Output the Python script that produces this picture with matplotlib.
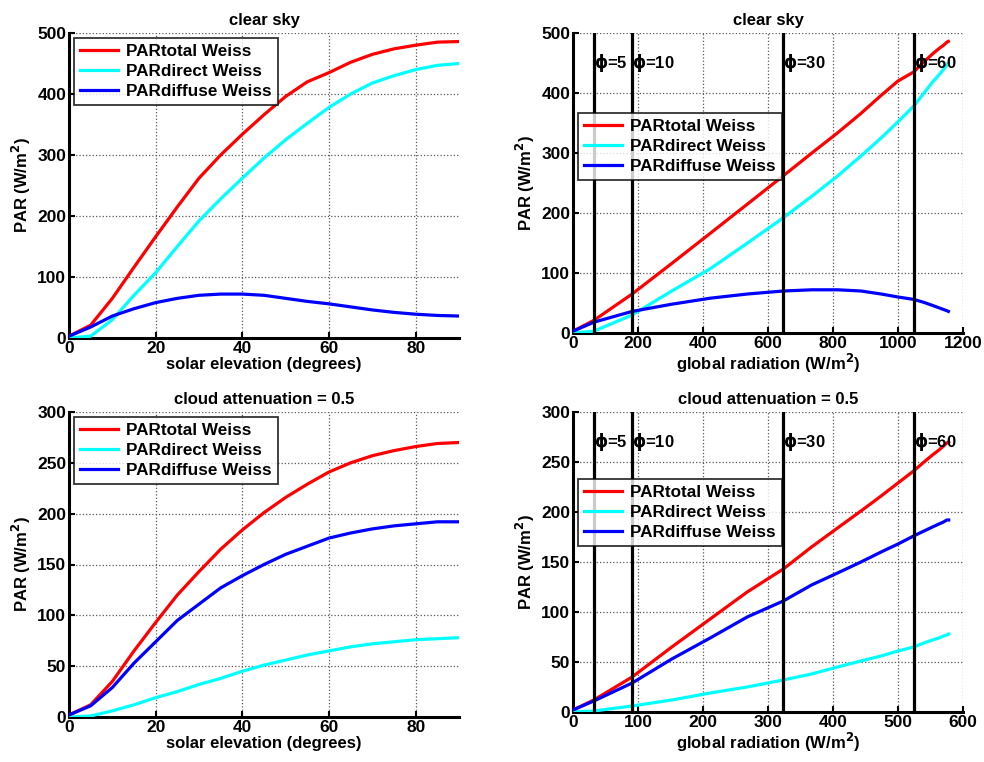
import numpy as np
import matplotlib
matplotlib.use("Agg")
import matplotlib.pyplot as plt

plt.rcParams['font.family'] = ['Liberation Sans', 'DejaVu Sans']
plt.rcParams['font.weight'] = 'bold'
plt.rcParams['axes.labelweight'] = 'bold'
plt.rcParams['axes.titleweight'] = 'bold'
plt.rcParams['mathtext.default'] = 'bf'

# solar elevation (degrees)
elev = [0, 5, 10, 15, 20, 25, 30, 35, 40, 45, 50, 55, 60, 65, 70, 75, 80, 85, 90]

# clear sky
glob_clear = [0, 64, 182, 304, 422, 537, 647, 735, 815, 886, 948, 1000, 1048,
              1080, 1106, 1126, 1141, 1151, 1155]
tot_clear = [3, 21, 65, 116, 166, 215, 262, 300, 334, 366, 396, 420, 435,
             452, 465, 474, 480, 485, 486]
dir_clear = [0, 3, 30, 70, 107, 150, 192, 228, 262, 295, 325, 352, 378,
             400, 418, 430, 440, 447, 450]
dif_clear = [3, 18, 36, 48, 58, 65, 70, 72, 72, 70, 65, 60, 56,
             51, 46, 42, 39, 37, 36]

# cloud attenuation = 0.5
glob_cloud = [0, 32, 91, 152, 211, 268, 323.5, 367, 407, 443, 474, 500, 524,
              540, 553, 563, 570, 575, 578]
tot_cloud = [2, 12, 35, 65, 93, 120, 143, 165, 184, 201, 216, 229, 241,
             250, 257, 262, 266, 269, 270]
dir_cloud = [0, 1, 6, 12, 19, 25, 32, 38, 45, 51, 56, 61, 65,
             69, 72, 74, 76, 77, 78]
dif_cloud = [2, 11, 29, 53, 74, 95, 111, 127, 139, 150, 160, 168, 176,
             181, 185, 188, 190, 192, 192]

phi_marks = [5, 10, 30, 60]
labels = ['PARtotal Weiss', 'PARdirect Weiss', 'PARdiffuse Weiss']
colors = ['#ff0000', '#00ffff', '#0000ff']

fig = plt.figure(figsize=(9.84, 7.62), dpi=100)
W, H = 984, 762


def make_ax(x0, x1, y0, y1):
    return fig.add_axes([x0 / W, 1 - y1 / H, (x1 - x0) / W, (y1 - y0) / H])


def style(ax, xlim, xticks, ylim, yticks, title, xlabel):
    ax.set_xlim(xlim)
    ax.set_ylim(ylim)
    ax.set_xticks(xticks)
    ax.set_yticks(yticks)
    ax.grid(True, linestyle=':', color='0.35', linewidth=0.9)
    for s in ['top', 'right']:
        ax.spines[s].set_visible(False)
    for s in ['left', 'bottom']:
        ax.spines[s].set_linewidth(2.2)
    ax.tick_params(direction='in', length=4, width=1.5, labelsize=12.5, pad=2)
    for t in ax.get_xticklabels() + ax.get_yticklabels():
        t.set_fontweight('bold')
    ax.set_title(title, fontsize=12, pad=6)
    ax.set_ylabel('PAR (W/m$^2$)', fontsize=12, labelpad=3)
    ax.set_xlabel(xlabel, fontsize=12, labelpad=1)


def curves(ax, x, ys):
    for y, c, lab in zip(ys, colors, labels):
        ax.plot(x, y, color=c, lw=2.3, label=lab, zorder=3)


def phi_lines(ax, g, ytxt):
    for p in phi_marks:
        xv = g[elev.index(p)]
        ax.axvline(xv, color='black', lw=2.3, zorder=4)
        ax.text(xv, ytxt, r'$\phi$=%d' % p, fontsize=12, fontweight='bold',
                ha='left', va='center', zorder=5)


def legend(ax, **kw):
    leg = ax.legend(fontsize=12.3, frameon=True, fancybox=False,
                    edgecolor='black', handlelength=2.2, handletextpad=0.5,
                    borderpad=0.35, labelspacing=0.3, borderaxespad=0.3, **kw)
    leg.get_frame().set_linewidth(1.3)
    for t in leg.get_texts():
        t.set_fontweight('bold')


# top left
ax1 = make_ax(69, 459, 33, 338)
curves(ax1, elev, [tot_clear, dir_clear, dif_clear])
style(ax1, (0, 90), [0, 20, 40, 60, 80], (0, 500), range(0, 501, 100),
      'clear sky', 'solar elevation (degrees)')
legend(ax1, loc='upper left')

# top right
ax2 = make_ax(573, 963, 33, 333)
curves(ax2, glob_clear, [tot_clear, dir_clear, dif_clear])
phi_lines(ax2, glob_clear, 450)
style(ax2, (0, 1200), range(0, 1201, 200), (0, 500), range(0, 501, 100),
      'clear sky', 'global radiation (W/m$^2$)')
legend(ax2, loc='upper left', bbox_to_anchor=(0.0, 0.75))

# bottom left
ax3 = make_ax(69, 459, 412, 717)
curves(ax3, elev, [tot_cloud, dir_cloud, dif_cloud])
style(ax3, (0, 90), [0, 20, 40, 60, 80], (0, 300), range(0, 301, 50),
      'cloud attenuation = 0.5', 'solar elevation (degrees)')
legend(ax3, loc='upper left')

# bottom right
ax4 = make_ax(573, 963, 412, 712)
curves(ax4, glob_cloud, [tot_cloud, dir_cloud, dif_cloud])
phi_lines(ax4, glob_cloud, 270)
style(ax4, (0, 600), range(0, 601, 100), (0, 300), range(0, 301, 50),
      'cloud attenuation = 0.5', 'global radiation (W/m$^2$)')
legend(ax4, loc='upper left', bbox_to_anchor=(0.0, 0.795))

fig.savefig('out.png', dpi=100)
